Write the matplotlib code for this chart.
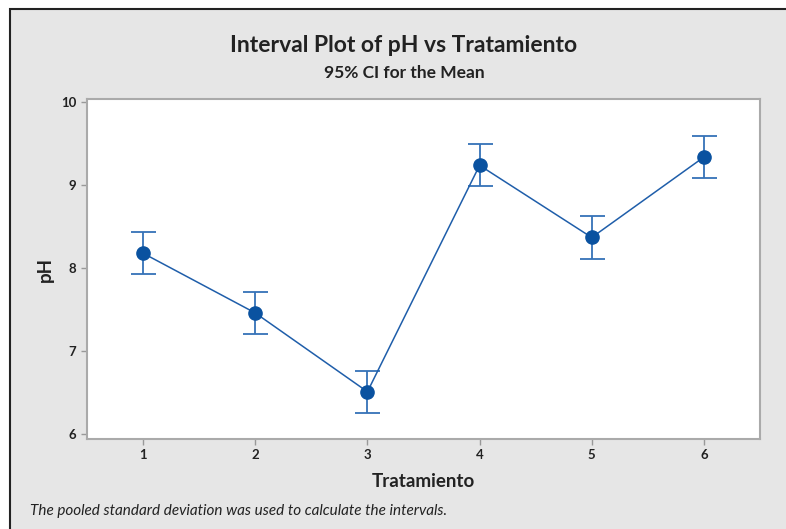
import matplotlib.pyplot as plt
from matplotlib.patches import Rectangle

# Data
tratamiento = [1, 2, 3, 4, 5, 6]
ph_mean = [8.18, 7.46, 6.51, 9.24, 8.37, 9.34]
ci_half = [0.255, 0.255, 0.255, 0.255, 0.255, 0.255]
yticks = [6, 7, 8, 9, 10]

plt.rcParams['font.family'] = ['Lato', 'DejaVu Sans']

fig = plt.figure(figsize=(7.86, 5.29), dpi=100)
fig.patch.set_facecolor('white')

# gray panel with dark border (right/bottom edge cropped off)
W, H = 786, 529
panel = Rectangle((10 / W, -0.05), 1.0, 1 - 9 / H + 0.05, transform=fig.transFigure,
                  facecolor='#e6e6e6', edgecolor='#222222', linewidth=1.5, zorder=-1)
fig.patches.append(panel)

ax = fig.add_axes([87 / W, 1 - 439 / H, (760 - 87) / W, (439 - 99) / H])
ax.set_facecolor('white')

blue = '#0a52a0'
ax.errorbar(tratamiento, ph_mean, yerr=ci_half, fmt='none', ecolor='#3572b8',
            elinewidth=1.3, capsize=9, capthick=1.3, zorder=2)
ax.plot(tratamiento, ph_mean, '-', color='#1f5eaa', linewidth=1.1, zorder=3)
ax.plot(tratamiento, ph_mean, 'o', color=blue, markersize=9.5, zorder=4)

ax.set_xlim(0.5, 6.5)
ax.set_ylim(5.94, 10.04)
ax.set_xticks(tratamiento)
ax.set_yticks(yticks)
ax.tick_params(axis='both', colors='#999999', length=4, width=1, labelsize=9.5,
               labelcolor='#222222')
for lab in ax.get_xticklabels() + ax.get_yticklabels():
    lab.set_fontweight('bold')
for s in ax.spines.values():
    s.set_color('#aaaaaa')
    s.set_linewidth(1.5)

ax.set_xlabel('Tratamiento', fontsize=13.5, fontweight='bold', color='#222222', labelpad=8)
ax.set_ylabel('pH', fontsize=13.5, fontweight='bold', color='#222222', labelpad=5)

fig.text(404 / W, 1 - 45 / H, 'Interval Plot of pH vs Tratamiento', ha='center', va='center',
         fontsize=16.5, fontweight='bold', color='#222222')
fig.text(404 / W, 1 - 73 / H, '95% CI for the Mean', ha='center', va='center',
         fontsize=12.5, fontweight='bold', color='#222222')
fig.text(30 / W, 1 - 511 / H, 'The pooled standard deviation was used to calculate the intervals.',
         ha='left', va='center', fontsize=11, style='italic', color='#222222')

fig.savefig('out.png', dpi=100)
